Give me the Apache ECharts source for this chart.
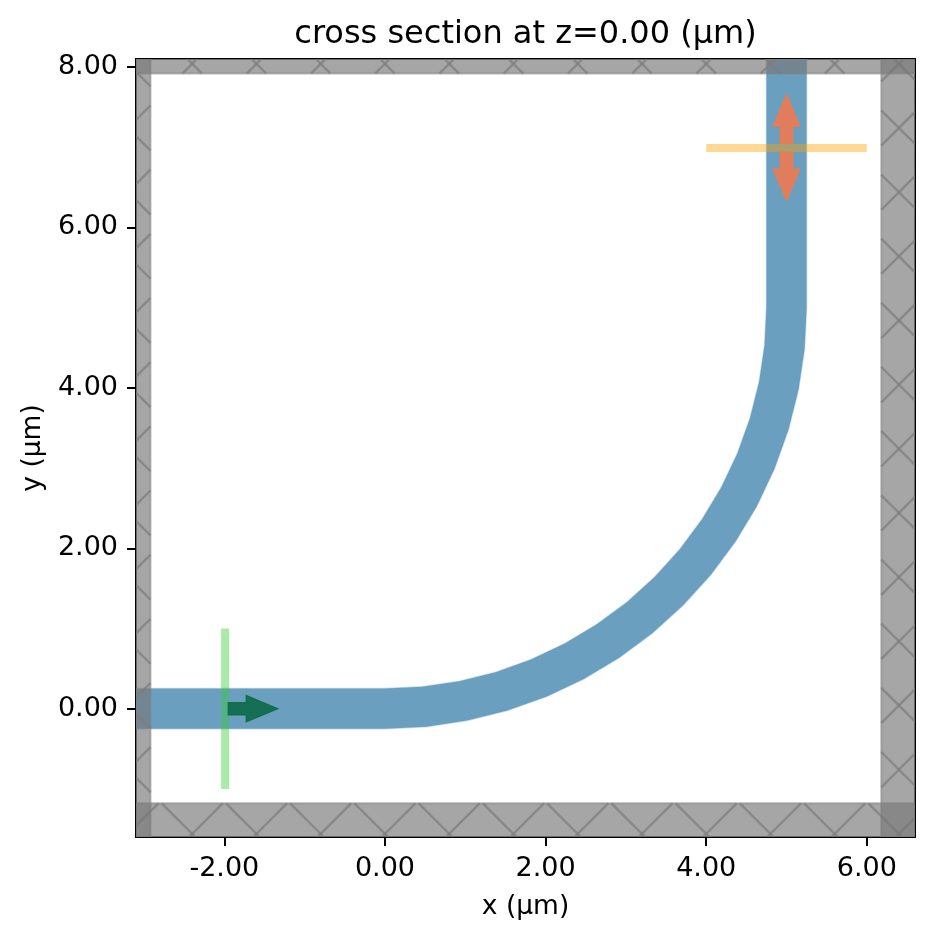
<!DOCTYPE html>
<html><head><meta charset="utf-8">
<style>html,body{margin:0;padding:0;background:#fff}#c{width:933px;height:940px}</style>
<script src="https://cdn.jsdelivr.net/npm/echarts@6/dist/echarts.min.js"></script>
</head><body><div id="c"></div>
<script>
const xTicks = [-2, 0, 2, 4, 6];
const yTicks = [0, 2, 4, 6, 8];
const xRange = [-3.1, 6.6];
const yRange = [-1.6, 8.1];
// waveguide outline, read along the two edges of the bend
const innerX = [-3.1, 0, 0.466, 0.927, 1.379, 1.818, 2.239, 2.639, 3.013, 3.359, 3.672, 3.949, 4.189, 4.388, 4.545, 4.659, 4.727, 4.75, 4.75];
const innerY = [0.25, 0.25, 0.273, 0.341, 0.455, 0.612, 0.811, 1.051, 1.328, 1.641, 1.987, 2.361, 2.761, 3.182, 3.621, 4.073, 4.534, 5, 8.1];
const outerX = [-3.1, 0, 0.515, 1.024, 1.524, 2.009, 2.475, 2.917, 3.331, 3.712, 4.058, 4.365, 4.63, 4.85, 5.024, 5.149, 5.225, 5.25, 5.25];
const outerY = [-0.25, -0.25, -0.225, -0.149, -0.024, 0.15, 0.37, 0.635, 0.942, 1.288, 1.669, 2.083, 2.525, 2.991, 3.476, 3.976, 4.485, 5, 8.1];
// absorber regions: x0, x1, y0, y1
const pmlLeft = [-3.1, -2.92, -1.6, 8.1];
const pmlRight = [6.18, 6.6, -1.6, 8.1];
const pmlTop = [-3.1, 6.6, 7.92, 8.1];
const pmlBottom = [-3.1, 6.6, -1.6, -1.18];
const hatchPitch = 0.8;
const sourceLine = [[-1.99, -1], [-1.99, 1]];
const monitorLine = [[4, 6.99], [6, 6.99]];
// arrows: tail x, tail y, tip x, tip y
const sourceArrow = [-1.95, 0, -1.34, 0];
const monitorArrowUp = [5, 7.05, 5, 7.65];
const monitorArrowDown = [5, 6.94, 5, 6.34];

const FONT = '"DejaVu Sans"';
const TICK = 27;

function renderWaveguide(p, api) {
  const pts = [];
  for (let i = 0; i < innerX.length; i++) pts.push(api.coord([innerX[i], innerY[i]]));
  for (let i = outerX.length - 1; i >= 0; i--) pts.push(api.coord([outerX[i], outerY[i]]));
  return { type: 'polygon', shape: { points: pts }, style: { fill: '#6a9fbf', stroke: 'rgba(106,159,191,0.35)', lineWidth: 1.5 } };
}
function clipLine(x0, y0, dx, dy, r) {
  let t0 = -1e3, t1 = 1e3;
  let a = dx > 0 ? (r[0] - x0) / dx : (r[1] - x0) / dx, b = dx > 0 ? (r[1] - x0) / dx : (r[0] - x0) / dx;
  t0 = Math.max(t0, a); t1 = Math.min(t1, b);
  a = dy > 0 ? (r[2] - y0) / dy : (r[3] - y0) / dy; b = dy > 0 ? (r[3] - y0) / dy : (r[2] - y0) / dy;
  t0 = Math.max(t0, a); t1 = Math.min(t1, b);
  return t1 > t0 ? [[x0 + dx * t0, y0 + dy * t0], [x0 + dx * t1, y0 + dy * t1]] : null;
}
function renderPml(p, api) {
  const r = [api.value(0), api.value(1), api.value(2), api.value(3)];
  const a = api.coord([r[0], r[3]]), b = api.coord([r[1], r[2]]);
  const kids = [{ type: 'rect', shape: { x: a[0], y: a[1], width: b[0] - a[0], height: b[1] - a[1] },
    style: { fill: 'rgba(120,120,120,0.66)', stroke: 'rgba(128,128,128,0.55)', lineWidth: 2 } }];
  const hatch = { stroke: 'rgba(125,125,125,0.72)', lineWidth: 2.4 };
  for (let k = -30; k <= 30; k++) {
    const c1 = 0.04 + k * hatchPitch, c2 = -0.04 + k * hatchPitch;
    for (const s of [clipLine(0, c1, 1, -1, r), clipLine(0, -c2, 1, 1, r)]) {
      if (!s) continue;
      const u = api.coord(s[0]), v = api.coord(s[1]);
      kids.push({ type: 'line', shape: { x1: u[0], y1: u[1], x2: v[0], y2: v[1] }, style: hatch });
    }
  }
  return { type: 'group', children: kids };
}
function renderArrow(fill, stroke) {
  return (p, api) => {
    const t = api.coord([api.value(0), api.value(1)]), h = api.coord([api.value(2), api.value(3)]);
    const L = Math.hypot(h[0] - t[0], h[1] - t[1]), ux = (h[0] - t[0]) / L, uy = (h[1] - t[1]) / L, nx = -uy, ny = ux;
    const at = (d, w) => [t[0] + ux * d + nx * w, t[1] + uy * d + ny * w];
    const hl = 31, sw = 6, hw = 13;
    return { type: 'polygon', shape: { points: [at(0, sw), at(L - hl, sw), at(L - hl, hw), at(L, 0), at(L - hl, -hw), at(L - hl, -sw), at(0, -sw)] },
      style: { fill, stroke, lineWidth: 1.5 } };
  };
}
const axisBase = { axisLine: { onZero: false, lineStyle: { color: '#000', width: 2 } }, splitLine: { show: false }, nameTextStyle: { fontFamily: FONT, fontSize: 26.5, color: '#000' }, nameLocation: 'middle' };
const ticks = (vals) => ({ axisTick: { show: true, length: 9, customValues: vals, lineStyle: { color: '#000', width: 2 } },
  axisLabel: { show: true, customValues: vals, margin: 18, fontFamily: FONT, fontSize: TICK, color: '#000', formatter: v => Number(v).toFixed(2) } });
const blank = { axisTick: { show: false }, axisLabel: { show: false } };
const lineSeries = (data, color, z) => ({ type: 'line', data, showSymbol: false, symbol: 'none', z, silent: true, animation: false, lineStyle: { color, width: 8, cap: 'butt' } });
const custom = (renderItem, data, z) => ({ type: 'custom', renderItem, data, z, silent: true, animation: false, clip: true, encode: { x: [0], y: [1] } });

const chart = echarts.init(document.getElementById('c'), null, { renderer: 'canvas' });
chart.setOption({
  animation: false,
  backgroundColor: '#fff',
  title: { text: 'cross section at z=0.00 (μm)', left: 520.5, top: 14, textAlign: 'center', textStyle: { fontFamily: FONT, fontSize: 32, fontWeight: 'normal', color: '#000' } },
  grid: { left: 136, top: 59, width: 779, height: 778 },
  xAxis: [
    { type: 'value', min: xRange[0], max: xRange[1], position: 'bottom', name: 'x (μm)', nameGap: 57, ...axisBase, ...ticks(xTicks) },
    { type: 'value', min: xRange[0], max: xRange[1], position: 'top', ...axisBase, ...blank }
  ],
  yAxis: [
    { type: 'value', min: yRange[0], max: yRange[1], position: 'left', name: 'y (μm)', nameGap: 88, ...axisBase, ...ticks(yTicks) },
    { type: 'value', min: yRange[0], max: yRange[1], position: 'right', ...axisBase, ...blank }
  ],
  series: [
    custom(renderWaveguide, [[0, 0]], 2),
    lineSeries(sourceLine, 'rgba(50,205,50,0.42)', 3),
    lineSeries(monitorLine, 'rgba(255,165,0,0.42)', 3),
    custom(renderArrow('#166f54', '#0e6e4e'), [sourceArrow], 4),
    custom(renderArrow('#e07d5c', '#ee7b50'), [monitorArrowUp, monitorArrowDown], 4),
    custom(renderPml, [pmlLeft, pmlRight, pmlTop, pmlBottom], 5)
  ]
});
</script></body></html>
